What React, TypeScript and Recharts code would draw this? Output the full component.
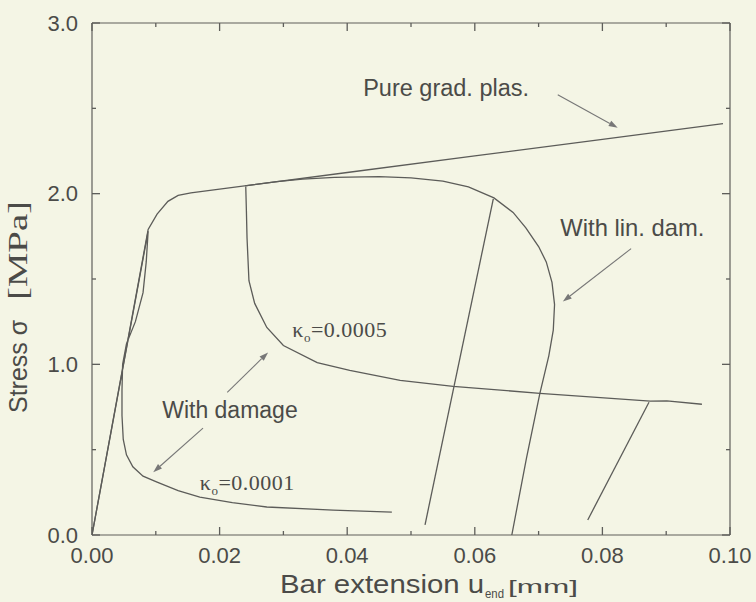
import React from 'react';
import { LineChart, Line, XAxis, YAxis, ReferenceLine, ReferenceDot } from 'recharts';

// Stress [MPa] against bar extension u_end [mm]
const pureGradPlas = [
  { x: 0, y: 0 }, { x: 0.0088, y: 1.79 }, { x: 0.0102, y: 1.88 }, { x: 0.0119, y: 1.955 },
  { x: 0.0135, y: 1.99 }, { x: 0.0155, y: 2.005 }, { x: 0.02, y: 2.027 }, { x: 0.04, y: 2.124 },
  { x: 0.06, y: 2.221 }, { x: 0.08, y: 2.318 }, { x: 0.0989, y: 2.41 },
];

const linDamage = [
  { x: 0.024, y: 2.046 }, { x: 0.029, y: 2.071 }, { x: 0.033, y: 2.085 }, { x: 0.038, y: 2.095 },
  { x: 0.045, y: 2.1 }, { x: 0.05, y: 2.093 }, { x: 0.055, y: 2.074 }, { x: 0.059, y: 2.04 },
  { x: 0.063, y: 1.975 }, { x: 0.066, y: 1.89 }, { x: 0.068, y: 1.8 }, { x: 0.07, y: 1.69 },
  { x: 0.0712, y: 1.6 }, { x: 0.0721, y: 1.48 }, { x: 0.0725, y: 1.35 }, { x: 0.0723, y: 1.2 },
  { x: 0.0716, y: 1.05 }, { x: 0.0702, y: 0.83 }, { x: 0.0681, y: 0.45 }, { x: 0.0658, y: 0 },
];

const kappa0005 = [
  { x: 0.0241, y: 2.04 }, { x: 0.0242, y: 1.9 }, { x: 0.0243, y: 1.74 }, { x: 0.0246, y: 1.49 },
  { x: 0.0255, y: 1.357 }, { x: 0.0274, y: 1.216 }, { x: 0.03, y: 1.11 }, { x: 0.0353, y: 1.01 },
  { x: 0.0404, y: 0.965 }, { x: 0.0483, y: 0.906 }, { x: 0.0566, y: 0.871 }, { x: 0.0702, y: 0.83 },
  { x: 0.0875, y: 0.784 }, { x: 0.0901, y: 0.786 }, { x: 0.0956, y: 0.766 },
];

const kappa0001 = [
  { x: 0, y: 0 }, { x: 0.0088, y: 1.78 }, { x: 0.0085, y: 1.6 }, { x: 0.008, y: 1.42 },
  { x: 0.0068, y: 1.25 }, { x: 0.0054, y: 1.12 }, { x: 0.0048, y: 1.0 }, { x: 0.0047, y: 0.85 },
  { x: 0.0047, y: 0.7 }, { x: 0.0049, y: 0.56 }, { x: 0.0054, y: 0.47 }, { x: 0.0064, y: 0.4 },
  { x: 0.008, y: 0.345 }, { x: 0.0102, y: 0.31 }, { x: 0.0135, y: 0.26 }, { x: 0.0169, y: 0.222 },
  { x: 0.022, y: 0.19 }, { x: 0.0274, y: 0.164 }, { x: 0.0378, y: 0.146 }, { x: 0.047, y: 0.134 },
];

// unloading branches
const unloadLinDam = [{ x: 0.0629, y: 1.97 }, { x: 0.0522, y: 0.06 }];
const unloadKappa = [{ x: 0.0873, y: 0.778 }, { x: 0.0777, y: 0.088 }];

const xMajor = [0, 0.02, 0.04, 0.06, 0.08, 0.1];
const xMinor = [0.01, 0.03, 0.05, 0.07, 0.09];
const yMajor = [0, 1, 2, 3];
const yMinor = [0.5, 1.5, 2.5];

// annotation anchors in data units
const notes = [
  { x: 0.0425, y: 2.573, text: 'Pure grad. plas.', size: 23.5 },
  { x: 0.0734, y: 1.754, text: 'With lin. dam.', size: 23.8 },
  { x: 0.011, y: 0.684, text: 'With damage', size: 23 },
];
const kappaNotes = [
  { x: 0.0314, y: 1.158, value: '0.0005' },
  { x: 0.0169, y: 0.263, value: '0.0001' },
];
const arrows = [
  { from: [0.073, 2.579], to: [0.0824, 2.386] },
  { from: [0.0845, 1.678], to: [0.0738, 1.368] },
  { from: [0.0212, 0.836], to: [0.0276, 1.07] },
  { from: [0.0174, 0.626], to: [0.0096, 0.368] },
];

const SANS = '"Liberation Sans", Arial, Helvetica, sans-serif';
const SERIF = '"Liberation Serif", "Times New Roman", serif';
const INK = '#4b4b48';
const CURVE = '#5c5c59';
const FRAME = '#5e5e5a';
const BG = '#f4f5e5';

const tickText = { fill: INK, fontSize: 22, fontFamily: SANS };
const frameLine = { stroke: FRAME, strokeWidth: 1.2 };

// short inward marks at both ends of a full-height / full-width reference line
const tickMarks = (len: number) => (props: any) => {
  const x1 = Number(props.x1);
  const y1 = Number(props.y1);
  const x2 = Number(props.x2);
  const y2 = Number(props.y2);
  if (Math.abs(x1 - x2) < 0.5) {
    const top = Math.min(y1, y2);
    const bot = Math.max(y1, y2);
    return (
      <g stroke={FRAME} strokeWidth={1.3}>
        <line x1={x1} y1={bot} x2={x1} y2={bot - len} />
        <line x1={x1} y1={top} x2={x1} y2={top + len} />
      </g>
    );
  }
  const left = Math.min(x1, x2);
  const right = Math.max(x1, x2);
  return (
    <g stroke={FRAME} strokeWidth={1.3}>
      <line x1={left} y1={y1} x2={left + len} y2={y1} />
      <line x1={right} y1={y1} x2={right - len} y2={y1} />
    </g>
  );
};
const majorMark = tickMarks(8);
const minorMark = tickMarks(4);

const ArrowShape = (props: any) => {
  const { x1, y1, x2, y2 } = props;
  const ang = Math.atan2(y2 - y1, x2 - x1);
  const hl = 9;
  const hw = 3;
  const bx = x2 - hl * Math.cos(ang);
  const by = y2 - hl * Math.sin(ang);
  const px = -Math.sin(ang) * hw;
  const py = Math.cos(ang) * hw;
  return (
    <g>
      <line x1={x1} y1={y1} x2={bx} y2={by} stroke="#777" strokeWidth={1.1} />
      <polygon points={`${x2},${y2} ${bx + px},${by + py} ${bx - px},${by - py}`} fill="#777" />
    </g>
  );
};

// rotated title left of the frame
const YTitle = (p: any) => {
  const vb = p.viewBox;
  const bx = vb.x + 27;
  const bottom = vb.y + vb.height;
  return (
    <g fill={INK}>
      <text x={bx} y={bottom - 122} transform={`rotate(-90 ${bx} ${bottom - 122})`}
        fontFamily={SANS} fontSize={25}>Stress σ</text>
      <text x={bx} y={bottom - 235} transform={`rotate(-90 ${bx} ${bottom - 235})`}
        fontFamily={SERIF} fontSize={28} textLength={99} lengthAdjust="spacingAndGlyphs">[MPa]</text>
    </g>
  );
};

const XTitle = (p: any) => {
  const vb = p.viewBox;
  const tx = vb.x + 188;
  const ty = vb.y + 58;
  return (
    <g fill={INK} fontFamily={SANS}>
      <g transform={`translate(${tx} ${ty}) scale(1.13 1)`}>
        <text x={0} y={0} fontSize={26}>Bar extension u</text>
      </g>
      <text x={tx + 205} y={ty + 5} fontSize={13} textLength={19} lengthAdjust="spacingAndGlyphs">end</text>
      <text x={tx + 228} y={ty} fontSize={19} textLength={70} lengthAdjust="spacingAndGlyphs">[mm]</text>
    </g>
  );
};

const series = [pureGradPlas, linDamage, kappa0005, kappa0001, unloadLinDam, unloadKappa];

export default function App() {
  return (
    <div style={{ position: 'absolute', left: 0, top: 0, width: 756, height: 602, background: BG }}>
      <LineChart width={756} height={602} margin={{ top: 23, right: 26, left: 0, bottom: 0 }}>
        <XAxis
          dataKey="x" type="number" domain={[0, 0.1]} ticks={xMajor} interval={0}
          height={67} tickSize={0} tickMargin={12} tickLine={false} tick={tickText}
          tickFormatter={(v: number) => v.toFixed(2)} axisLine={frameLine}
          allowDataOverflow label={{ content: XTitle }}
        />
        <YAxis
          type="number" domain={[0, 3]} ticks={yMajor} interval={0} width={92}
          tickSize={0} tickMargin={14} tickLine={false} tick={tickText}
          tickFormatter={(v: number) => v.toFixed(1)} axisLine={frameLine}
          allowDataOverflow label={{ content: YTitle }}
        />

        {/* top and right sides of the frame */}
        <ReferenceLine x={0.1} stroke={FRAME} strokeWidth={1.2} />
        <ReferenceLine y={3} stroke={FRAME} strokeWidth={1.2} />

        {xMajor.map((v) => <ReferenceLine key={`xM${v}`} x={v} shape={majorMark} />)}
        {xMinor.map((v) => <ReferenceLine key={`xm${v}`} x={v} shape={minorMark} />)}
        {yMajor.map((v) => <ReferenceLine key={`yM${v}`} y={v} shape={majorMark} />)}
        {yMinor.map((v) => <ReferenceLine key={`ym${v}`} y={v} shape={minorMark} />)}

        {series.map((d, i) => (
          <Line
            key={i}
            data={d}
            dataKey="y"
            type="linear"
            stroke={CURVE}
            strokeWidth={1.3}
            dot={false}
            activeDot={false}
            isAnimationActive={false}
          />
        ))}

        {arrows.map((a, i) => (
          <ReferenceLine
            key={`arrow-${i}`}
            segment={[{ x: a.from[0], y: a.from[1] }, { x: a.to[0], y: a.to[1] }]}
            shape={ArrowShape}
            ifOverflow="visible"
          />
        ))}

        {notes.map((n, i) => (
          <ReferenceDot
            key={`note-${i}`}
            x={n.x}
            y={n.y}
            ifOverflow="visible"
            shape={(p: any) => (
              <text x={p.cx} y={p.cy} fill={INK} fontFamily={SANS} fontSize={n.size}>{n.text}</text>
            )}
          />
        ))}

        {kappaNotes.map((n, i) => (
          <ReferenceDot
            key={`kappa-${i}`}
            x={n.x}
            y={n.y}
            ifOverflow="visible"
            shape={(p: any) => (
              <text x={p.cx} y={p.cy} fill={INK} fontFamily={SERIF} fontSize={22} letterSpacing={0.5}>
                κ<tspan fontSize={13} dy={5}>o</tspan>
                <tspan dy={-5}>={n.value}</tspan>
              </text>
            )}
          />
        ))}
      </LineChart>
    </div>
  );
}
